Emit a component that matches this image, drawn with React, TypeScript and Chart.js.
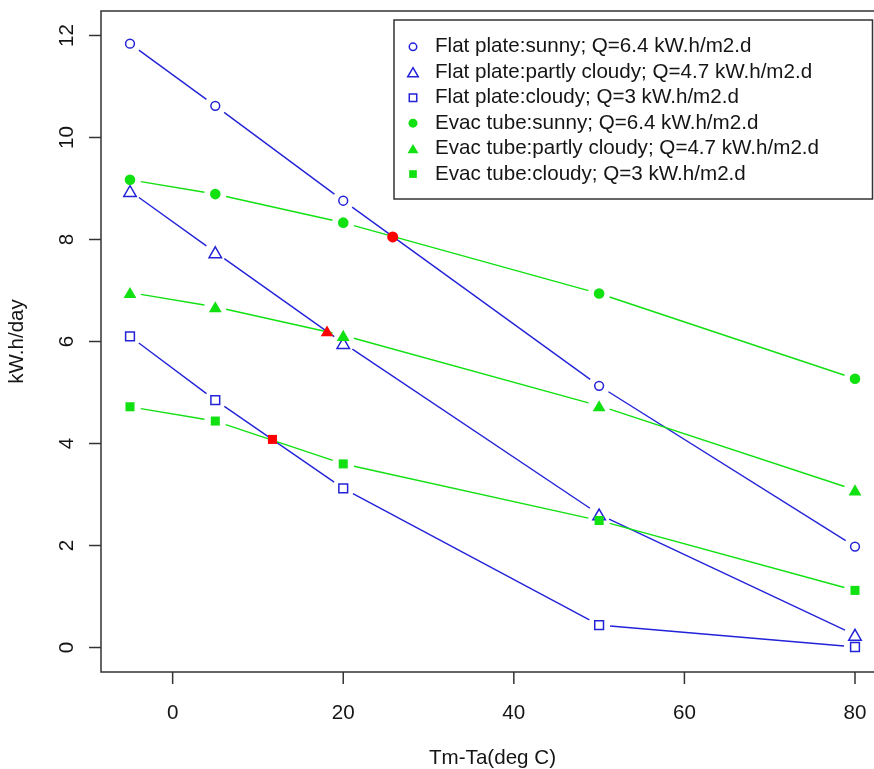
import React, { useEffect, useRef } from "react";
import { Chart, registerables } from "chart.js";

Chart.register(...registerables);

// ---- data ----
const xValues = [-5, 5, 20, 50, 80];
const flatSunny = [11.84, 10.62, 8.76, 5.13, 1.98];
const flatPartly = [8.95, 7.75, 5.97, 2.61, 0.25];
const flatCloudy = [6.1, 4.85, 3.12, 0.44, 0.01];
const evacSunny = [9.17, 8.89, 8.33, 6.94, 5.27];
const evacPartly = [6.96, 6.68, 6.12, 4.74, 3.09];
const evacCloudy = [4.72, 4.44, 3.6, 2.49, 1.12];
const crossX = [25.8, 18.1, 11.7];
const crossY = [8.05, 6.21, 4.08];

const seriesLabels = [
  "Flat plate:sunny; Q=6.4 kW.h/m2.d",
  "Flat plate:partly cloudy; Q=4.7 kW.h/m2.d",
  "Flat plate:cloudy; Q=3 kW.h/m2.d",
  "Evac tube:sunny; Q=6.4 kW.h/m2.d",
  "Evac tube:partly cloudy; Q=4.7 kW.h/m2.d",
  "Evac tube:cloudy; Q=3 kW.h/m2.d",
];
const xTicks = [0, 20, 40, 60, 80];
const yTicks = [0, 2, 4, 6, 8, 10, 12];
const xTitle = "Tm-Ta(deg C)";
const yTitle = "kW.h/day";

// ---- styles ----
const BLUE = "#2222d8";
const GREEN = "#11e011";
const RED = "#ff0000";
const TEXT = "#151515";
const FONT = '20.6px "Liberation Sans", Arial, sans-serif';
const GAP = 11;

type Mk = { style: string; fill: boolean; color: string; r: number };
const markers: Mk[] = [
  { style: "circle", fill: false, color: BLUE, r: 4.4 },
  { style: "triangle", fill: false, color: BLUE, r: 7.2 },
  { style: "rect", fill: false, color: BLUE, r: 6.2 },
  { style: "circle", fill: true, color: GREEN, r: 5.3 },
  { style: "triangle", fill: true, color: GREEN, r: 7.4 },
  { style: "rect", fill: true, color: GREEN, r: 6.4 },
];
const legendMarkers: Mk[] = markers.map((m) => ({ ...m, r: m.r * 0.85 }));
const lineColors = [BLUE, BLUE, BLUE, GREEN, GREEN, GREEN];

function drawMarker(ctx: CanvasRenderingContext2D, m: Mk, x: number, y: number) {
  ctx.save();
  ctx.beginPath();
  if (m.style === "circle") {
    ctx.arc(x, y, m.r, 0, Math.PI * 2);
  } else if (m.style === "triangle") {
    const r = m.r;
    const cy = y + r / 4;
    ctx.moveTo(x, cy - r);
    ctx.lineTo(x + (r * Math.sqrt(3)) / 2, cy + r / 2);
    ctx.lineTo(x - (r * Math.sqrt(3)) / 2, cy + r / 2);
    ctx.closePath();
  } else {
    const s = m.r * Math.SQRT1_2;
    ctx.rect(x - s, y - s, 2 * s, 2 * s);
  }
  if (m.fill) {
    ctx.fillStyle = m.color;
    ctx.fill();
  } else {
    ctx.strokeStyle = m.color;
    ctx.lineWidth = 1.5;
    ctx.stroke();
  }
  ctx.restore();
}

const rPlot = {
  id: "rPlot",
  beforeDatasetsDraw(chart: any) {
    const ctx: CanvasRenderingContext2D = chart.ctx;
    for (let i = 0; i < 6; i++) {
      const pts = chart.getDatasetMeta(i).data;
      ctx.save();
      ctx.strokeStyle = lineColors[i];
      ctx.lineWidth = 1.4;
      for (let k = 0; k < pts.length - 1; k++) {
        const a = pts[k], b = pts[k + 1];
        const dx = b.x - a.x, dy = b.y - a.y;
        const L = Math.hypot(dx, dy);
        if (L < 2 * GAP) continue;
        const ux = dx / L, uy = dy / L;
        ctx.beginPath();
        ctx.moveTo(a.x + ux * GAP, a.y + uy * GAP);
        ctx.lineTo(b.x - ux * GAP, b.y - uy * GAP);
        ctx.stroke();
      }
      ctx.restore();
    }
  },
  afterDatasetsDraw(chart: any) {
    const ctx: CanvasRenderingContext2D = chart.ctx;
    for (let i = 0; i < 6; i++) {
      chart.getDatasetMeta(i).data.forEach((p: any) => drawMarker(ctx, markers[i], p.x, p.y));
    }
    const redStyles = ["circle", "triangle", "rect"];
    chart.getDatasetMeta(6).data.forEach((p: any, k: number) =>
      drawMarker(
        ctx,
        { style: redStyles[k], fill: true, color: RED, r: redStyles[k] === "circle" ? 5.5 : redStyles[k] === "triangle" ? 7.2 : 6.4 },
        p.x,
        p.y
      )
    );
  },
  afterDraw(chart: any) {
    const ctx: CanvasRenderingContext2D = chart.ctx;
    const a = chart.chartArea;
    const xs = chart.scales.x, ys = chart.scales.y;
    ctx.save();
    // box (right side lies outside the visible page)
    ctx.strokeStyle = "#333";
    ctx.lineWidth = 1.5;
    ctx.beginPath();
    ctx.moveTo(chart.width, a.top);
    ctx.lineTo(a.left, a.top);
    ctx.lineTo(a.left, a.bottom);
    ctx.lineTo(chart.width, a.bottom);
    ctx.stroke();
    // x ticks
    ctx.font = FONT;
    ctx.fillStyle = TEXT;
    ctx.textAlign = "center";
    ctx.textBaseline = "middle";
    xTicks.forEach((v) => {
      const px = xs.getPixelForValue(v);
      ctx.beginPath();
      ctx.moveTo(px, a.bottom);
      ctx.lineTo(px, a.bottom + 12);
      ctx.stroke();
      ctx.fillText(String(v), px, 713);
    });
    yTicks.forEach((v) => {
      const py = ys.getPixelForValue(v);
      ctx.beginPath();
      ctx.moveTo(a.left, py);
      ctx.lineTo(a.left - 12, py);
      ctx.stroke();
      ctx.save();
      ctx.translate(67, py);
      ctx.rotate(-Math.PI / 2);
      ctx.fillText(String(v), 0, 0);
      ctx.restore();
    });
    // titles
    ctx.fillText(xTitle, (a.left + a.right) / 2, 758);
    ctx.save();
    ctx.translate(17, (a.top + a.bottom) / 2);
    ctx.rotate(-Math.PI / 2);
    ctx.fillText(yTitle, 0, 0);
    ctx.restore();
    // legend
    const lx = 394, ly = 20, lw = 478.5, lh = 179;
    ctx.fillStyle = "#fff";
    ctx.fillRect(lx, ly, lw, lh);
    ctx.strokeStyle = "#333";
    ctx.lineWidth = 1.5;
    ctx.strokeRect(lx, ly, lw, lh);
    ctx.textAlign = "left";
    seriesLabels.forEach((lab, i) => {
      const yy = 46.8 + i * 25.45;
      drawMarker(ctx, legendMarkers[i], 413, yy);
      ctx.fillStyle = TEXT;
      ctx.fillText(lab, 435, yy);
    });
    ctx.restore();
  },
};

export default function App() {
  const ref = useRef<HTMLCanvasElement>(null);
  useEffect(() => {
    const mk = (ys: number[]) => xValues.map((x, i) => ({ x, y: ys[i] }));
    const all = [flatSunny, flatPartly, flatCloudy, evacSunny, evacPartly, evacCloudy];
    const chart = new Chart(ref.current!, {
      type: "scatter",
      data: {
        datasets: [
          ...all.map((s, i) => ({
            label: seriesLabels[i],
            data: mk(s),
            pointRadius: 0,
            showLine: false,
            borderColor: lineColors[i],
            backgroundColor: lineColors[i],
          })),
          {
            label: "intersections",
            data: crossX.map((x, i) => ({ x, y: crossY[i] })),
            pointRadius: 0,
            showLine: false,
            backgroundColor: RED,
          },
        ],
      },
      options: {
        animation: false,
        responsive: false,
        events: [],
        layout: { padding: { left: 101, top: 11, right: 6, bottom: 97 } },
        plugins: { legend: { display: false }, tooltip: { enabled: false } },
        scales: {
          x: { type: "linear", display: false, min: -8.4, max: 83.4 },
          y: { type: "linear", display: false, min: -0.48, max: 12.48 },
        },
      },
      plugins: [rPlot],
    });
    return () => chart.destroy();
  }, []);
  return (
    <div style={{ position: "fixed", left: 0, top: 0, width: 890, height: 769, background: "#fff" }}>
      <canvas ref={ref} width={890} height={769} style={{ display: "block" }} />
    </div>
  );
}
